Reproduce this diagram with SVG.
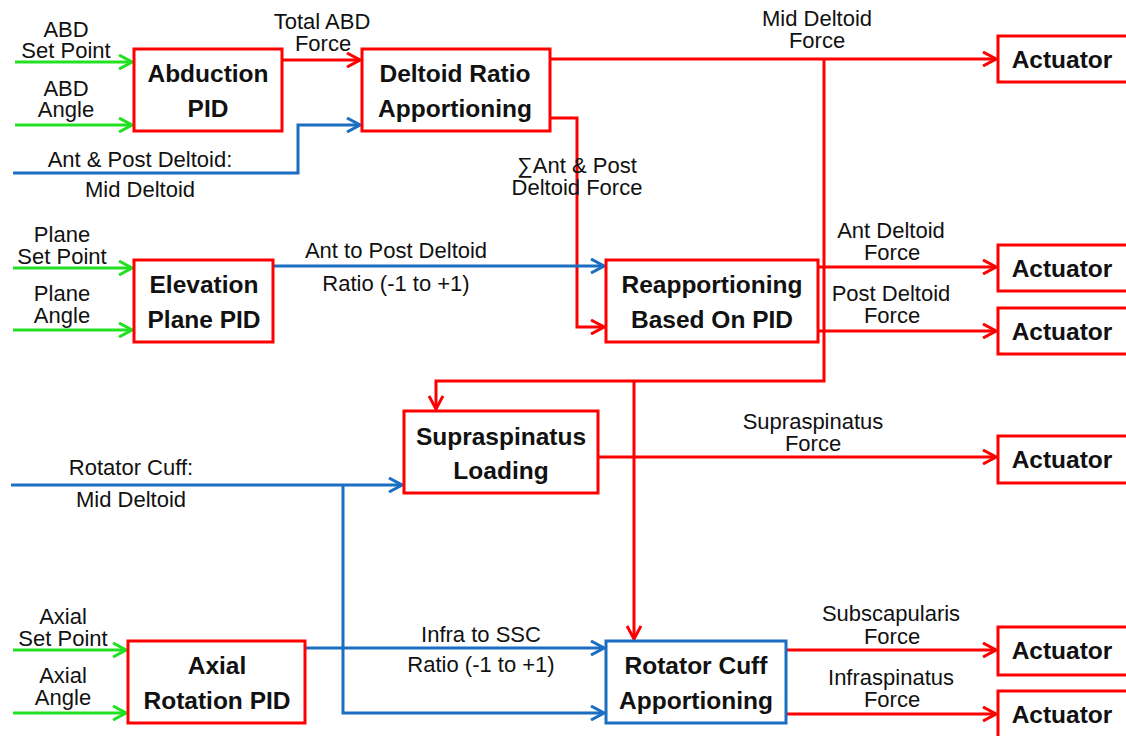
<svg xmlns="http://www.w3.org/2000/svg" width="1126" height="736" viewBox="0 0 1126 736">
  <style>
    .lbl { font-family: "Liberation Sans", Arial, sans-serif; font-size: 22px; fill: #111; text-anchor: middle; }
    .ttl { font-family: "Liberation Sans", Arial, sans-serif; font-size: 24.5px; font-weight: bold; fill: #111; text-anchor: middle; }
    .box { fill: #fff; stroke: #ff0000; stroke-width: 3; }
    .box-blue { fill: #fff; stroke: #1b6ec2; stroke-width: 3; }
    .red { fill: none; stroke: #ff0000; stroke-width: 3; }
    .green { fill: none; stroke: #22e022; stroke-width: 3; }
    .blue { fill: none; stroke: #1b6ec2; stroke-width: 3; }
  </style>
  <defs>
    <marker id="arrow-red" viewBox="0 0 16 16" refX="15" refY="8" markerWidth="16" markerHeight="16" markerUnits="userSpaceOnUse" orient="auto">
      <path d="M2,1 L15,8 L2,15" fill="none" stroke="#ff0000" stroke-width="3"/>
    </marker>
    <marker id="arrow-green" viewBox="0 0 16 16" refX="15" refY="8" markerWidth="16" markerHeight="16" markerUnits="userSpaceOnUse" orient="auto">
      <path d="M2,1 L15,8 L2,15" fill="none" stroke="#22e022" stroke-width="3"/>
    </marker>
    <marker id="arrow-blue" viewBox="0 0 16 16" refX="15" refY="8" markerWidth="16" markerHeight="16" markerUnits="userSpaceOnUse" orient="auto">
      <path d="M2,1 L15,8 L2,15" fill="none" stroke="#1b6ec2" stroke-width="3"/>
    </marker>
  </defs>

  <rect width="1126" height="736" fill="#fff"/>

  <!-- connectors -->
  <g id="connectors">
    <!-- setpoint / angle inputs -->
    <path class="green" d="M15,62 H132" marker-end="url(#arrow-green)"/>
    <path class="green" d="M15,125 H132" marker-end="url(#arrow-green)"/>
    <path class="green" d="M13,268 H132" marker-end="url(#arrow-green)"/>
    <path class="green" d="M13,330 H132" marker-end="url(#arrow-green)"/>
    <path class="green" d="M13,650 H126" marker-end="url(#arrow-green)"/>
    <path class="green" d="M13,713 H126" marker-end="url(#arrow-green)"/>

    <!-- abduction chain -->
    <path class="red" d="M282,60 H360" marker-end="url(#arrow-red)"/>
    <path class="blue" d="M13,173 H298 V125 H360" marker-end="url(#arrow-blue)"/>
    <path class="red" d="M550,59 H996" marker-end="url(#arrow-red)"/>
    <path class="red" d="M824,59 V381 H436 V409" marker-end="url(#arrow-red)"/>
    <path class="red" d="M634,381 V639" marker-end="url(#arrow-red)"/>
    <path class="red" d="M550,118 H577 V327 H604" marker-end="url(#arrow-red)"/>

    <!-- elevation plane chain -->
    <path class="blue" d="M273,266 H604" marker-end="url(#arrow-blue)"/>
    <path class="red" d="M818,267 H996" marker-end="url(#arrow-red)"/>
    <path class="red" d="M818,331 H996" marker-end="url(#arrow-red)"/>

    <!-- supraspinatus -->
    <path class="red" d="M598,457 H996" marker-end="url(#arrow-red)"/>
    <path class="blue" d="M11,485 H402" marker-end="url(#arrow-blue)"/>
    <path class="blue" d="M343,485 V713 H604" marker-end="url(#arrow-blue)"/>

    <!-- axial rotation chain -->
    <path class="blue" d="M305,648 H604" marker-end="url(#arrow-blue)"/>
    <path class="red" d="M786,650 H996" marker-end="url(#arrow-red)"/>
    <path class="red" d="M786,714 H996" marker-end="url(#arrow-red)"/>
  </g>

  <!-- connector labels -->
  <g id="labels">
    <text class="lbl" x="66" y="37">ABD</text>
    <text class="lbl" x="66" y="58">Set Point</text>
    <text class="lbl" x="66" y="96">ABD</text>
    <text class="lbl" x="66" y="117">Angle</text>
    <text class="lbl" x="322" y="29">Total ABD</text>
    <text class="lbl" x="323" y="51">Force</text>
    <text class="lbl" x="140" y="167">Ant &amp; Post Deltoid:</text>
    <text class="lbl" x="140" y="197">Mid Deltoid</text>
    <text class="lbl" x="817" y="26">Mid Deltoid</text>
    <text class="lbl" x="817" y="48">Force</text>
    <text class="lbl" x="577" y="173">∑Ant &amp; Post</text>
    <text class="lbl" x="577" y="195">Deltoid Force</text>

    <text class="lbl" x="62" y="242">Plane</text>
    <text class="lbl" x="62" y="264">Set Point</text>
    <text class="lbl" x="62" y="301">Plane</text>
    <text class="lbl" x="62" y="323">Angle</text>
    <text class="lbl" x="396" y="258">Ant to Post Deltoid</text>
    <text class="lbl" x="396" y="291">Ratio (-1 to +1)</text>
    <text class="lbl" x="891" y="238">Ant Deltoid</text>
    <text class="lbl" x="892" y="260">Force</text>
    <text class="lbl" x="891" y="301">Post Deltoid</text>
    <text class="lbl" x="892" y="323">Force</text>

    <text class="lbl" x="813" y="429">Supraspinatus</text>
    <text class="lbl" x="813" y="451">Force</text>
    <text class="lbl" x="131" y="475">Rotator Cuff:</text>
    <text class="lbl" x="131" y="507">Mid Deltoid</text>

    <text class="lbl" x="63" y="624">Axial</text>
    <text class="lbl" x="63" y="646">Set Point</text>
    <text class="lbl" x="63" y="683">Axial</text>
    <text class="lbl" x="63" y="705">Angle</text>
    <text class="lbl" x="481" y="642">Infra to SSC</text>
    <text class="lbl" x="481" y="672">Ratio (-1 to +1)</text>
    <text class="lbl" x="891" y="621">Subscapularis</text>
    <text class="lbl" x="892" y="644">Force</text>
    <text class="lbl" x="891" y="685">Infraspinatus</text>
    <text class="lbl" x="892" y="707">Force</text>
  </g>

  <!-- nodes -->
  <g id="abduction-pid">
    <rect class="box" x="134" y="49" width="148" height="82"/>
    <text class="ttl" x="208" y="82">Abduction</text>
    <text class="ttl" x="208" y="117">PID</text>
  </g>
  <g id="deltoid-ratio">
    <rect class="box" x="362" y="49" width="188" height="82"/>
    <text class="ttl" x="455" y="82">Deltoid Ratio</text>
    <text class="ttl" x="455" y="117">Apportioning</text>
  </g>
  <g id="actuator-mid-deltoid">
    <rect class="box" x="998" y="36" width="132" height="46"/>
    <text class="ttl" x="1062" y="68">Actuator</text>
  </g>

  <g id="elevation-plane-pid">
    <rect class="box" x="134" y="260" width="139" height="82"/>
    <text class="ttl" x="204" y="293">Elevation</text>
    <text class="ttl" x="204" y="328">Plane PID</text>
  </g>
  <g id="reapportioning">
    <rect class="box" x="606" y="260" width="212" height="82"/>
    <text class="ttl" x="712" y="293">Reapportioning</text>
    <text class="ttl" x="712" y="328">Based On PID</text>
  </g>
  <g id="actuator-ant-deltoid">
    <rect class="box" x="998" y="245" width="132" height="46"/>
    <text class="ttl" x="1062" y="277">Actuator</text>
  </g>
  <g id="actuator-post-deltoid">
    <rect class="box" x="998" y="308" width="132" height="46"/>
    <text class="ttl" x="1062" y="340">Actuator</text>
  </g>

  <g id="supraspinatus-loading">
    <rect class="box" x="404" y="411" width="194" height="82"/>
    <text class="ttl" x="501" y="445">Supraspinatus</text>
    <text class="ttl" x="501" y="479">Loading</text>
  </g>
  <g id="actuator-supraspinatus">
    <rect class="box" x="998" y="436" width="132" height="47"/>
    <text class="ttl" x="1062" y="468">Actuator</text>
  </g>

  <g id="axial-rotation-pid">
    <rect class="box" x="128" y="641" width="177" height="82"/>
    <text class="ttl" x="217" y="674">Axial</text>
    <text class="ttl" x="217" y="709">Rotation PID</text>
  </g>
  <g id="rotator-cuff-apportioning">
    <rect class="box-blue" x="606" y="641" width="180" height="82"/>
    <text class="ttl" x="696" y="674">Rotator Cuff</text>
    <text class="ttl" x="696" y="709">Apportioning</text>
  </g>
  <g id="actuator-subscapularis">
    <rect class="box" x="998" y="627" width="132" height="48"/>
    <text class="ttl" x="1062" y="659">Actuator</text>
  </g>
  <g id="actuator-infraspinatus">
    <rect class="box" x="998" y="691" width="132" height="50"/>
    <text class="ttl" x="1062" y="723">Actuator</text>
  </g>
</svg>
